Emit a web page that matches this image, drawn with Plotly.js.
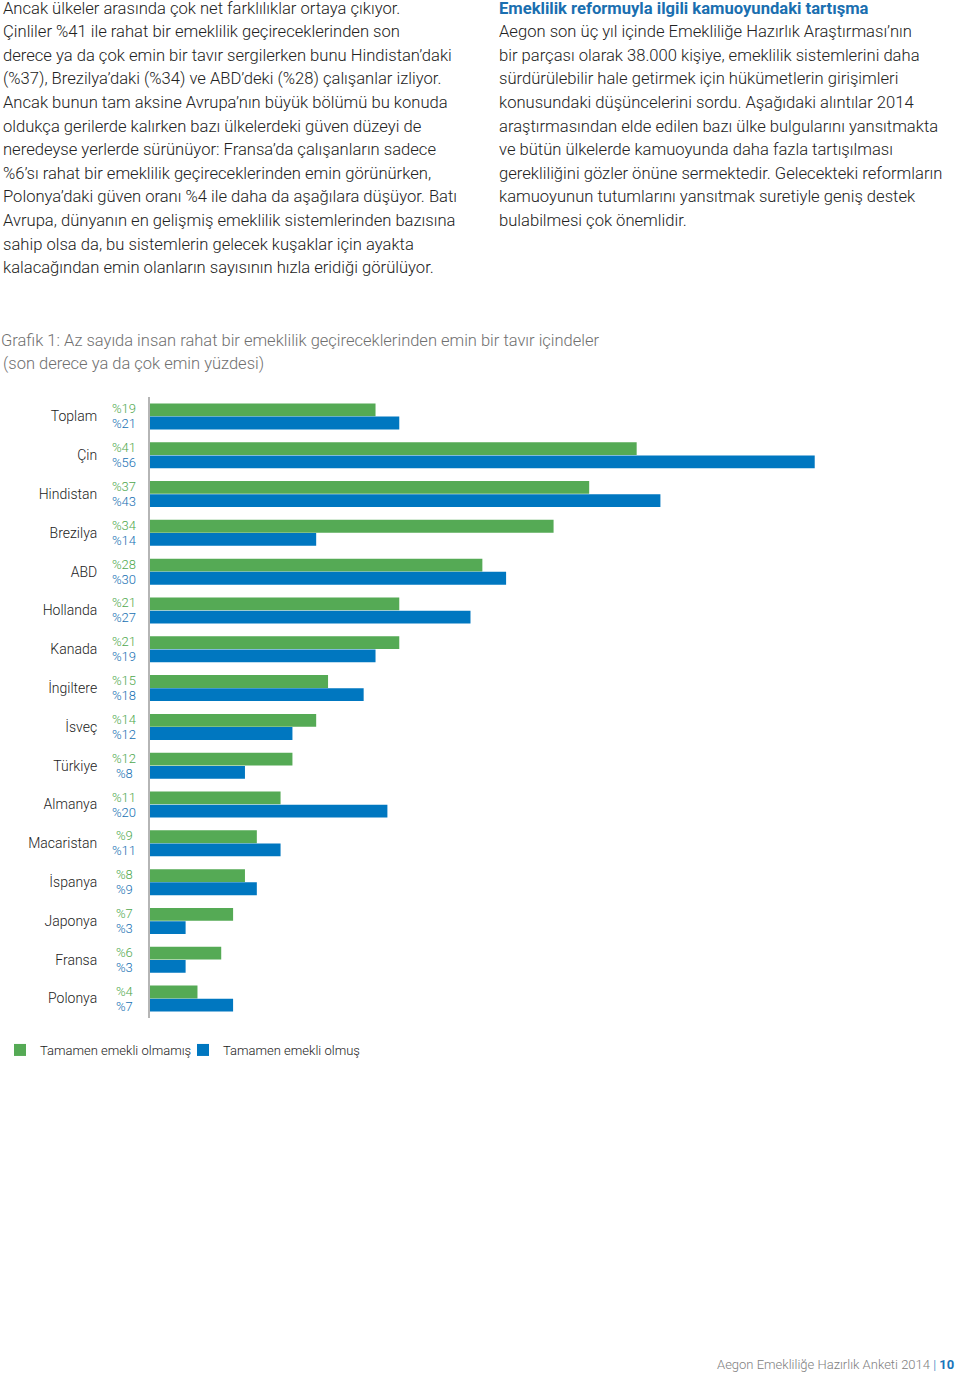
<!DOCTYPE html>
<html>
<head>
<meta charset="utf-8">
<script src="https://cdn.plot.ly/plotly-3.0.1.min.js"></script>
<style>html,body{margin:0;padding:0;background:#fff;}#chart{width:960px;height:1373px;}</style>
</head>
<body>
<div id="chart"></div>
<script>
// ---- data ----
const countries = ["Toplam","Çin","Hindistan","Brezilya","ABD","Hollanda","Kanada","İngiltere","İsveç","Türkiye","Almanya","Macaristan","İspanya","Japonya","Fransa","Polonya"];
const notRetired = [19,41,37,34,28,21,21,15,14,12,11,9,8,7,6,4];
const retired = [21,56,43,14,30,27,19,18,12,8,20,11,9,3,3,7];
const seriesNames = ["Tamamen emekli olmamış","Tamamen emekli olmuş"];

const leftText = [
"Ancak ülkeler arasında çok net farklılıklar ortaya çıkıyor.",
"Çinliler %41 ile rahat bir emeklilik geçireceklerinden son",
"derece ya da çok emin bir tavır sergilerken bunu Hindistan’daki",
"(%37), Brezilya’daki (%34) ve ABD’deki (%28) çalışanlar izliyor.",
"Ancak bunun tam aksine Avrupa’nın büyük bölümü bu konuda",
"oldukça gerilerde kalırken bazı ülkelerdeki güven düzeyi de",
"neredeyse yerlerde sürünüyor: Fransa’da çalışanların sadece",
"%6’sı rahat bir emeklilik geçireceklerinden emin görünürken,",
"Polonya’daki güven oranı %4 ile daha da aşağılara düşüyor. Batı",
"Avrupa, dünyanın en gelişmiş emeklilik sistemlerinden bazısına",
"sahip olsa da, bu sistemlerin gelecek kuşaklar için ayakta",
"kalacağından emin olanların sayısının hızla eridiği görülüyor."
];
const rightHeading = "Emeklilik reformuyla ilgili kamuoyundaki tartışma";
const rightText = [
"Aegon son üç yıl içinde Emekliliğe Hazırlık Araştırması’nın",
"bir parçası olarak 38.000 kişiye, emeklilik sistemlerini daha",
"sürdürülebilir hale getirmek için hükümetlerin girişimleri",
"konusundaki düşüncelerini sordu. Aşağıdaki alıntılar 2014",
"araştırmasından elde edilen bazı ülke bulgularını yansıtmakta",
"ve bütün ülkelerde kamuoyunda daha fazla tartışılması",
"gerekliliğini gözler önüne sermektedir. Gelecekteki reformların",
"kamuoyunun tutumlarını yansıtmak suretiyle geniş destek",
"bulabilmesi çok önemlidir."
];
const chartTitle = "Grafik 1: Az sayıda insan rahat bir emeklilik geçireceklerinden emin bir tavır içindeler";
const chartSubtitle = "(son derece ya da çok emin yüzdesi)";
const footerText = "Aegon Emekliliğe Hazırlık Anketi 2014 <span style='color:#1a75bb'>| <b>10</b></span>";

// ---- layout geometry ----
const W = 960, H = 1373;
const ML = 150, MR = 10, MT = 397, MB = 355;
const PW = W - ML - MR, PH = H - MT - MB;
const pxPerUnit = 11.87;
const px = x => (x - ML) / PW;
const py = y => (MT + PH - y) / PH;

const FONT = "Roboto, 'Open Sans', sans-serif";
const GREEN = "#55aa55", BLUE = "#0077c0";
const TEXT = "#222222";
const BODY = 16.6;

const annotations = [];
leftText.forEach((t, i) => annotations.push({
  text: t, xref: "paper", yref: "paper", x: px(1), y: py(8 + i * 23.6),
  xanchor: "left", yanchor: "middle", showarrow: false,
  font: {family: FONT, size: BODY, weight: 300, color: TEXT}
}));
annotations.push({
  text: "<b>" + rightHeading + "</b>", xref: "paper", yref: "paper", x: px(497), y: py(8),
  xanchor: "left", yanchor: "middle", showarrow: false,
  font: {family: FONT, size: BODY, color: "#1a6fb0"}
});
rightText.forEach((t, i) => annotations.push({
  text: t, xref: "paper", yref: "paper", x: px(497), y: py(31.6 + i * 23.6),
  xanchor: "left", yanchor: "middle", showarrow: false,
  font: {family: FONT, size: BODY, weight: 300, color: TEXT}
}));
annotations.push({
  text: chartSubtitle, xref: "paper", yref: "paper", x: px(1), y: py(363),
  xanchor: "left", yanchor: "middle", showarrow: false,
  font: {family: FONT, size: 16.5, weight: 300, color: "#707070"}
});
countries.forEach((c, i) => {
  annotations.push({
    text: "%" + notRetired[i], xref: "paper", yref: "y", x: px(124), y: c, yshift: 7.5,
    xanchor: "center", yanchor: "middle", showarrow: false,
    font: {family: FONT, size: 13, weight: 300, color: "#4ea84e"}
  });
  annotations.push({
    text: "%" + retired[i], xref: "paper", yref: "y", x: px(124), y: c, yshift: -7.5,
    xanchor: "center", yanchor: "middle", showarrow: false,
    font: {family: FONT, size: 13, weight: 300, color: "#1570b3"}
  });
});
annotations.push({
  text: footerText, xref: "paper", yref: "paper", x: px(956), y: py(1364),
  xanchor: "right", yanchor: "middle", showarrow: false,
  font: {family: FONT, size: 13, weight: 300, color: "#808080"}
});

const traces = [
  {type: "bar", orientation: "h", name: seriesNames[0], y: countries, x: notRetired,
   marker: {color: GREEN}, hoverinfo: "x+y"},
  {type: "bar", orientation: "h", name: seriesNames[1], y: countries, x: retired,
   marker: {color: BLUE}, hoverinfo: "x+y"}
];

const layout = {
  width: W, height: H,
  margin: {l: ML, r: MR, t: MT, b: MB, pad: 0, autoexpand: false},
  paper_bgcolor: "#fff", plot_bgcolor: "#fff",
  font: {family: FONT, color: TEXT},
  title: {
    text: chartTitle, xref: "container", yref: "container",
    x: 1 / W, xanchor: "left", y: 1 - 340 / H, yanchor: "middle",
    font: {family: FONT, size: 16.5, weight: 300, color: "#707070"}
  },
  barmode: "group", bargap: 0.32, bargroupgap: 0.03,
  xaxis: {range: [0, PW / pxPerUnit], showgrid: false, zeroline: false,
          showticklabels: false, showline: false, fixedrange: true},
  yaxis: {type: "category", autorange: "reversed", showgrid: false, zeroline: false,
          showline: true, linecolor: "#b5b5b5", linewidth: 2, ticks: "",
          ticklabelstandoff: 48, tickfont: {family: FONT, size: 14, weight: 300, color: TEXT},
          fixedrange: true},
  showlegend: true,
  legend: {orientation: "h", xref: "container", yref: "container", x: -16 / W, y: 1 - 1035 / H,
           xanchor: "left", yanchor: "top", font: {family: FONT, size: 13, weight: 300, color: TEXT},
           entrywidth: 138, entrywidthmode: "pixels", bgcolor: "rgba(0,0,0,0)"},
  annotations: annotations
};

Plotly.newPlot("chart", traces, layout, {displayModeBar: false});
</script>
</body>
</html>
